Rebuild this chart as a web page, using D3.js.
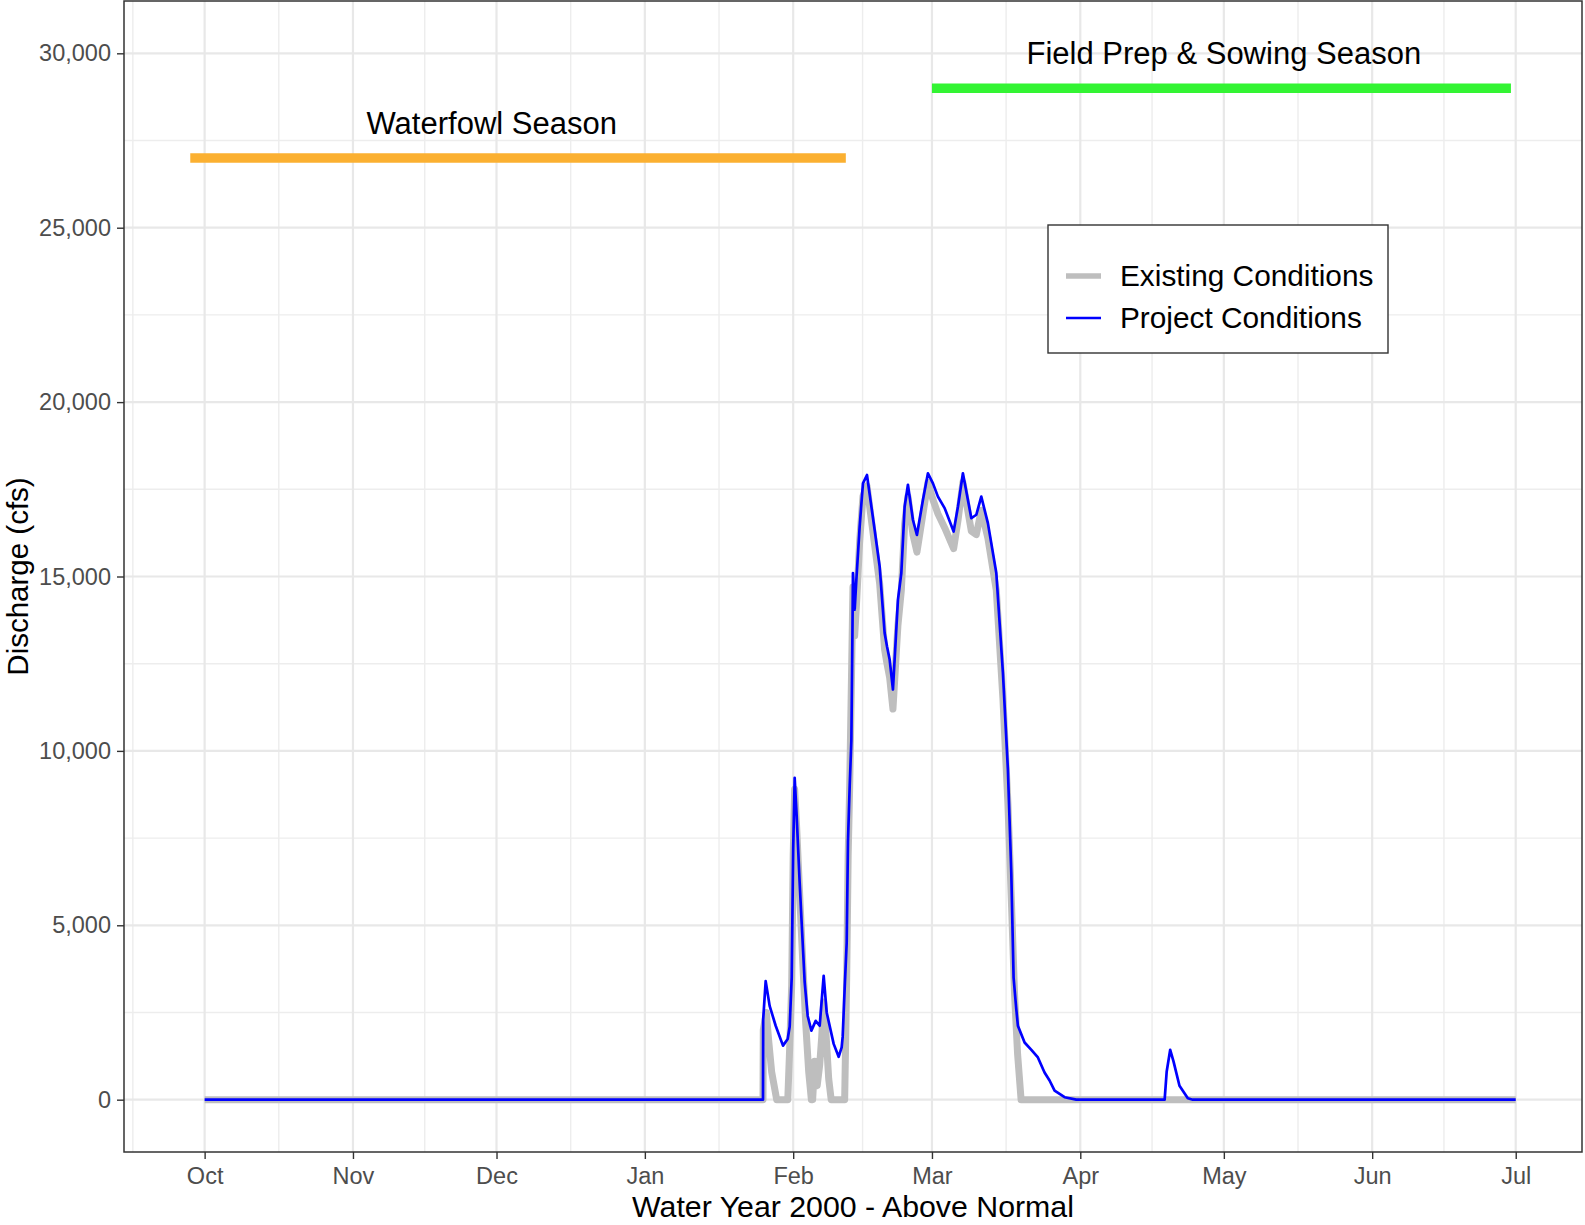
<!DOCTYPE html>
<html lang="en">
<head>
    <meta charset="UTF-8">
    <title>Discharge - Water Year 2000</title>
    <script src="https://d3js.org/d3.v7.min.js"></script>
    <style>
        body { margin: 0; background: #fff; }
        svg text { font-family: "Liberation Sans", Arial, sans-serif; }
        .tick text { fill: #4d4d4d; font-size: 23.5px; }
        .tick line { stroke: #333; stroke-width: 1.4px; }
    </style>
</head>
<body>
<svg width="1585" height="1225"></svg>

<script>
    // day offsets are counted from the start of the water year (1 Oct 1999)
    const wyStart = Date.UTC(1999, 9, 1);

    // [day, cfs]
    const existing = [
        [0, 0], [116.69, 0], [116.75, 2000], [117.39, 2500], [117.87, 1700], [118.5, 800],
        [119.55, 0], [121.87, 0], [122.27, 1500], [122.69, 3300], [123.0, 7000], [123.31, 8900],
        [123.73, 7800], [124.35, 5900], [124.98, 4000], [125.61, 2200], [126.24, 800], [126.8, 0],
        [127.07, 0], [127.49, 1100], [128.01, 400], [128.54, 1000], [128.96, 1800], [129.37, 2800],
        [129.9, 1800], [130.42, 600], [130.94, 0], [133.76, 0], [134.18, 3500], [134.49, 7000],
        [134.81, 9000], [135.23, 12500], [135.49, 14700], [135.85, 13300], [136.27, 14300],
        [136.89, 16000], [137.58, 17300], [138.42, 17600], [140.02, 15900], [141.07, 14800],
        [142.11, 12900], [142.6, 12500], [143.16, 12100], [143.85, 11200], [144.89, 13600],
        [145.6, 14600], [146.29, 16500], [146.98, 17300], [148.03, 16200], [148.86, 15700],
        [150.12, 16800], [151.16, 17700], [152.21, 17200], [153.25, 16800], [154.65, 16400],
        [156.53, 15800], [157.43, 16600], [158.47, 17700], [160.23, 16300], [161.27, 16200],
        [162.31, 16900], [163.69, 16100], [165.45, 14600], [166.83, 11500], [167.87, 8500],
        [168.65, 5500], [169.27, 3000], [169.9, 1300], [170.63, 0], [274, 0]
    ];

    const project = [
        [0, 0], [116.69, 0], [116.73, 2300], [117.25, 3400], [118.08, 2690], [119.34, 2120],
        [120.87, 1550], [121.85, 1740], [122.27, 2100], [122.69, 3500], [123.0, 7200], [123.31, 9230],
        [123.73, 8130], [124.35, 6230], [124.77, 5080], [125.4, 3370], [126.03, 2400], [126.8, 1980],
        [127.7, 2260], [128.54, 2120], [129.37, 3550], [130.0, 2500], [130.62, 2120], [131.46, 1600],
        [132.5, 1230], [133.13, 1500], [133.34, 1800], [133.76, 3200], [134.18, 4500], [134.45, 7400],
        [134.81, 9000], [135.16, 10300], [135.37, 13200], [135.49, 15100], [135.85, 14050],
        [136.2, 14900], [136.89, 16430], [137.58, 17670], [138.42, 17910], [140.02, 16340],
        [141.07, 15290], [142.11, 13380], [142.6, 13000], [143.16, 12620], [143.85, 11760],
        [144.89, 14330], [145.6, 15100], [146.29, 17000], [146.98, 17630], [148.03, 16620],
        [148.86, 16190], [150.12, 17200], [151.16, 17960], [152.21, 17670], [153.25, 17290],
        [154.65, 16960], [156.53, 16290], [157.43, 17000], [158.47, 17960], [160.23, 16670],
        [161.27, 16770], [162.31, 17290], [163.69, 16530], [165.45, 15100], [166.83, 12240],
        [167.87, 9470], [168.58, 6510], [169.06, 3500], [169.62, 2600], [169.96, 2120],
        [171.36, 1640], [172.82, 1420], [174.14, 1210], [175.53, 780], [176.58, 550],
        [177.63, 260], [179.72, 70], [182.16, 0], [200.63, 0], [201.05, 800], [201.79, 1430],
        [202.48, 1100], [203.73, 400], [205.47, 40], [206.51, 0], [274, 0]
    ];

    const seriesNames = ["Existing Conditions", "Project Conditions"];

    const seasonNames = ["Waterfowl Season", "Field Prep & Sowing Season"];
    const seasonStart = ["1999-09-28", "2000-03-01"];
    const seasonEnd = ["2000-02-12", "2000-06-30"];
    const seasonLevel = [27000, 29000];
    const labelDate = ["1999-11-30", "2000-05-01"];
    const labelLevel = [28000, 30000];

    const yTicks = [0, 5000, 10000, 15000, 20000, 25000, 30000];

    const seasonColor = ["#fbb031", "#33f433"];
    const lineColor = ["#bebebe", "#0000ff"];
    const lineWidth = [7, 2.7];

    const toDate = d => new Date(wyStart + d * 864e5);
    const parse = d3.utcParse("%Y-%m-%d");

    let svg = d3.select("svg");
    const L = 124, R = 1582, T = 1, B = 1152;

    // x extent over everything drawn, plus ggplot's 5% expansion
    let allDates = existing.map(d => toDate(d[0]))
        .concat(seasonStart.map(parse), seasonEnd.map(parse));
    let xe = d3.extent(allDates);
    let xpad = (xe[1] - xe[0]) * 0.05;
    const x = d3.scaleUtc()
        .domain([new Date(+xe[0] - xpad), new Date(+xe[1] + xpad)])
        .range([L, R]);

    let ye = [0, d3.max(labelLevel)];
    let ypad = (ye[1] - ye[0]) * 0.05;
    const y = d3.scaleLinear().domain([ye[0] - ypad, ye[1] + ypad]).range([B, T]);

    svg.append("defs").append("clipPath").attr("id", "panel")
        .append("rect").attr("x", L).attr("y", T).attr("width", R - L).attr("height", B - T);

    // grid
    let months = d3.utcMonth.range(new Date(Date.UTC(1999, 9, 1)), new Date(Date.UTC(2000, 6, 2)));
    let monthsExt = d3.utcMonth.range(new Date(Date.UTC(1999, 8, 1)), new Date(Date.UTC(2000, 7, 2)));
    let xMinor = d3.pairs(monthsExt).map(p => new Date((+p[0] + +p[1]) / 2));
    let yMinor = d3.range(-2500, 33000, 5000);

    let grid = svg.append("g").attr("clip-path", "url(#panel)");
    grid.selectAll(".xminor").data(xMinor).enter().append("line")
        .attr("x1", d => x(d)).attr("x2", d => x(d)).attr("y1", T).attr("y2", B)
        .attr("stroke", "#ededed").attr("stroke-width", 1.4);
    grid.selectAll(".yminor").data(yMinor).enter().append("line")
        .attr("y1", d => y(d)).attr("y2", d => y(d)).attr("x1", L).attr("x2", R)
        .attr("stroke", "#ededed").attr("stroke-width", 1.4);
    grid.selectAll(".xmajor").data(months).enter().append("line")
        .attr("x1", d => x(d)).attr("x2", d => x(d)).attr("y1", T).attr("y2", B)
        .attr("stroke", "#e8e8e8").attr("stroke-width", 2.2);
    grid.selectAll(".ymajor").data(yTicks).enter().append("line")
        .attr("y1", d => y(d)).attr("y2", d => y(d)).attr("x1", L).attr("x2", R)
        .attr("stroke", "#e8e8e8").attr("stroke-width", 2.2);

    // discharge lines
    const line = d3.line().x(d => x(toDate(d[0]))).y(d => y(d[1]));
    [existing, project].forEach(function (s, i) {
        svg.append("path")
            .datum(s)
            .attr("d", line)
            .attr("fill", "none")
            .attr("stroke", lineColor[i])
            .attr("stroke-width", lineWidth[i])
            .attr("stroke-linejoin", "round");
    });

    // season bars + labels
    seasonNames.forEach(function (name, i) {
        svg.append("line")
            .attr("x1", x(parse(seasonStart[i]))).attr("x2", x(parse(seasonEnd[i])))
            .attr("y1", y(seasonLevel[i])).attr("y2", y(seasonLevel[i]))
            .attr("stroke", seasonColor[i]).attr("stroke-width", 9.5);
        svg.append("text")
            .attr("x", x(parse(labelDate[i]))).attr("y", y(labelLevel[i]))
            .attr("dy", "0.35em")
            .attr("text-anchor", "middle")
            .style("font-size", "31px")
            .text(name);
    });

    // axes
    svg.append("g").attr("transform", `translate(${L},0)`)
        .call(d3.axisLeft(y).tickValues(yTicks).tickFormat(d3.format(",")).tickSize(7).tickPadding(6))
        .call(g => g.select(".domain").remove());
    svg.append("g").attr("transform", `translate(0,${B})`)
        .call(d3.axisBottom(x).tickValues(months).tickFormat(d3.utcFormat("%b")).tickSize(7).tickPadding(8))
        .call(g => g.select(".domain").remove());

    svg.append("rect")
        .attr("x", L).attr("y", T).attr("width", R - L).attr("height", B - T)
        .attr("fill", "none").attr("stroke", "#333").attr("stroke-width", 1.5);

    svg.append("text")
        .attr("x", (L + R) / 2).attr("y", 1217)
        .attr("text-anchor", "middle")
        .style("font-size", "30.3px")
        .text("Water Year 2000 - Above Normal");
    svg.append("text")
        .attr("transform", `translate(28,${(T + B) / 2}) rotate(-90)`)
        .attr("text-anchor", "middle")
        .style("font-size", "29.5px")
        .text("Discharge (cfs)");

    // legend
    let lg = svg.append("g").attr("transform", "translate(1048,225)");
    lg.append("rect").attr("width", 340).attr("height", 128)
        .attr("fill", "#fff").attr("stroke", "#333").attr("stroke-width", 1.4);
    seriesNames.forEach(function (name, i) {
        let ky = 51 + i * 42;
        lg.append("line").attr("x1", 18).attr("x2", 53).attr("y1", ky).attr("y2", ky)
            .attr("stroke", lineColor[i]).attr("stroke-width", i === 0 ? 5.5 : 2.4);
        lg.append("text").attr("x", 72).attr("y", ky).attr("dy", "0.35em")
            .style("font-size", "29.8px")
            .text(name);
    });
</script>
</body>
</html>
